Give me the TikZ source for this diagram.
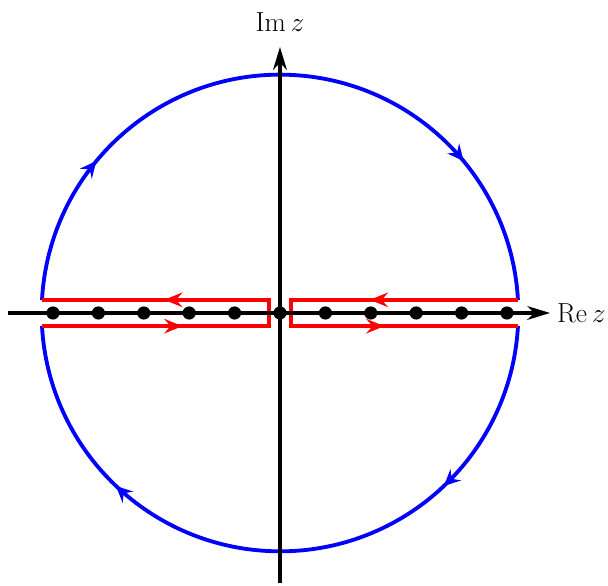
\documentclass[tikz,border=0pt]{standalone}
\usetikzlibrary{arrows.meta,decorations.markings}
\definecolor{arcblue}{RGB}{0,0,255}
\definecolor{cutred}{RGB}{255,0,0}

\tikzset{
  axis/.style={line width=2.4pt,-{Stealth[length=5mm,width=3mm,inset=1.5mm]}},
  arctip/.style={arcblue,line width=2.4pt,postaction={decorate},
    decoration={markings,
      mark=at position #1 with {\arrow{Stealth[length=3.6mm,width=3.4mm,inset=1.3mm]}},
      mark=at position 1-#1 with {\arrow{Stealth[length=3.6mm,width=3.4mm,inset=1.3mm]}}}},
  cuttip/.style 2 args={cutred,line width=2.4pt,postaction={decorate},
    decoration={markings,
      mark=at position #1 with {\arrow{Stealth[length=4mm,width=3.2mm,inset=1.4mm]}},
      mark=at position #2 with {\arrow{Stealth[length=4mm,width=3.2mm,inset=1.4mm]}}}},
  pole/.style={circle,fill=black,inner sep=0pt,minimum size=2.9mm},
  lbl/.style={font=\fontsize{16}{19}\selectfont,inner sep=0pt}
}

\begin{document}
\begin{tikzpicture}
  \useasboundingbox (-6.167,-6.013) rectangle (7.225,6.894);
  \def\R{5.25}
  \def\h{0.29}
  % big circle, upper and lower halves
  \draw[arctip=0.21] (176.9:\R) arc[start angle=176.9,end angle=3.1,radius=\R];
  \draw[arctip=0.25] (-3.1:\R) arc[start angle=-3.1,end angle=-176.9,radius=\R];
  % the two cuts
  \draw[cuttip={3.1cm}{7.88cm}] (-\R,-\h) -- (-0.25,-\h) -- (-0.25,\h) -- (-\R,\h);
  \draw[cuttip={3.27cm}{7.63cm}] (\R,\h) -- (0.25,\h) -- (0.25,-\h) -- (\R,-\h);
  % axes
  \coordinate (xl) at (-6,0);
  \coordinate (xr) at (5.95,0);
  \coordinate (yb) at (0,-5.95);
  \coordinate (yt) at (0,5.86);
  \draw[axis] (xl) -- (xr);
  \draw[axis] (yb) -- (yt);
  \node[lbl,anchor=west] (re) at (6.1,0) {$\mathrm{Re}\,z$};
  \node[lbl] (im) at (0,6.4) {$\mathrm{Im}\,z$};
  % poles
  \foreach \k in {-5,...,5} \node[pole] (p\k) at (\k,0) {};
\end{tikzpicture}
\end{document}
